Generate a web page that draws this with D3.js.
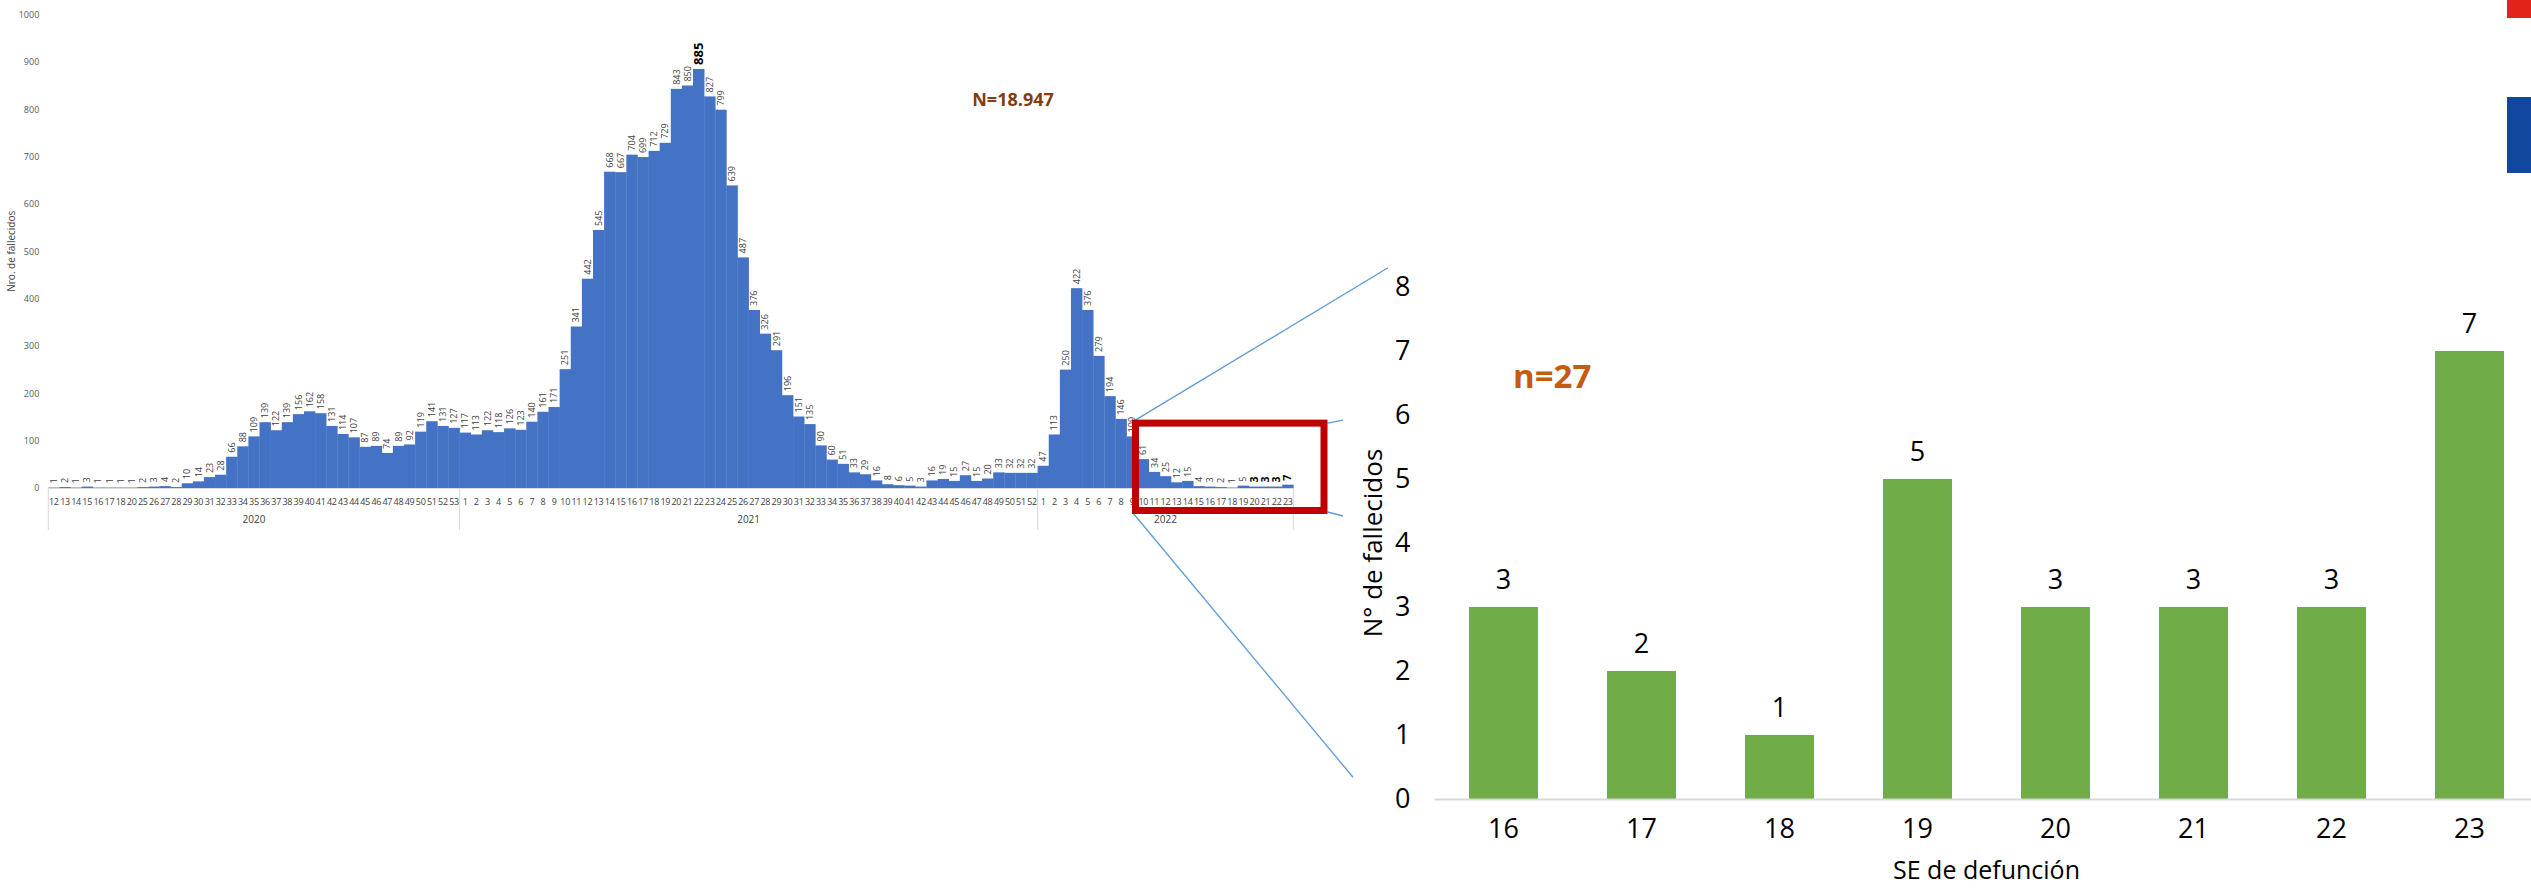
<!DOCTYPE html>
<html>
<head>
<meta charset="utf-8">
<script src="https://cdn.jsdelivr.net/npm/d3@7"></script>
<style>
  html, body { margin: 0; padding: 0; background: #ffffff; }
  svg { display: block; font-family: "Open Sans", "Noto Sans", sans-serif; }
</style>
</head>
<body>
<svg id="chart" width="2531" height="888"></svg>
<script>
// ---------------- DATA ----------------
const years = ["2020", "2021", "2022"];

const weeks2020 = [12,13,14,15,16,17,18,20,25,26,27,28,29,30,31,32,33,34,35,36,37,38,39,40,41,42,43,44,45,46,47,48,49,50,51,52,53];
const values2020 = [1,2,1,3,1,1,1,1,2,3,4,2,10,14,23,28,66,88,109,139,122,139,156,162,158,131,114,107,87,89,74,89,92,119,141,131,127];

const weeks2021 = [1,2,3,4,5,6,7,8,9,10,11,12,13,14,15,16,17,18,19,20,21,22,23,24,25,26,27,28,29,30,31,32,33,34,35,36,37,38,39,40,41,42,43,44,45,46,47,48,49,50,51,52];
const values2021 = [117,113,122,118,126,123,140,161,171,251,341,442,545,668,667,704,699,712,729,843,850,885,827,799,639,487,376,326,291,196,151,135,90,60,51,33,29,16,8,6,5,3,16,19,15,27,15,20,33,32,32,32];

const weeks2022 = [1,2,3,4,5,6,7,8,9,10,11,12,13,14,15,16,17,18,19,20,21,22,23];
const values2022 = [47,113,250,422,376,279,194,146,109,61,34,25,12,15,4,3,2,1,5,3,3,3,7];

const boldLabels = ["2021-22", "2022-20", "2022-21", "2022-22", "2022-23"];

const leftTicks = [0,100,200,300,400,500,600,700,800,900,1000];
const totalLabel = "N=18.947";

const zoomWeeks = ["16","17","18","19","20","21","22","23"];
const zoomValues = [3,2,1,5,3,3,3,7];
const zoomTicks = [0,1,2,3,4,5,6,7,8];
const zoomLabel = "n=27";

// ---------------- BUILD ----------------
const svg = d3.select("#chart");

const rows = [];
[[years[0], weeks2020, values2020], [years[1], weeks2021, values2021], [years[2], weeks2022, values2022]]
  .forEach(([yr, wk, vals]) => wk.forEach((w, i) => rows.push({key: yr + "-" + w, year: yr, week: w, value: vals[i]})));

// ---------- LEFT CHART ----------
const xL = d3.scaleBand().domain(rows.map(d => d.key)).range([48.3, 1293.3]).padding(0);
const yL = d3.scaleLinear().domain([0, 1000]).range([488, 14.5]);

const left = svg.append("g");

left.append("g").selectAll("rect").data(rows).join("rect")
  .attr("x", d => xL(d.key))
  .attr("y", d => yL(d.value))
  .attr("width", xL.bandwidth() + 0.3)
  .attr("height", d => yL(0) - yL(d.value))
  .attr("fill", "#4472C4");

left.append("line")
  .attr("x1", xL.range()[0]).attr("x2", xL.range()[1])
  .attr("y1", yL(0) + 0.5).attr("y2", yL(0) + 0.5)
  .attr("stroke", "#D9D9D9").attr("stroke-width", 1);

const yAxisL = left.append("g")
  .attr("transform", `translate(${xL.range()[0]},0)`)
  .call(d3.axisLeft(yL).tickValues(leftTicks).tickFormat(d3.format("d")).tickSize(0).tickPadding(9));
yAxisL.select(".domain").remove();
yAxisL.selectAll("text").attr("font-size", 9).attr("fill", "#595959").attr("font-family", "Open Sans");

left.append("text")
  .attr("transform", `translate(11, ${(yL(0) + yL(1000)) / 2}) rotate(-90)`)
  .attr("text-anchor", "middle").attr("dy", "0.35em")
  .attr("font-size", 10).attr("fill", "#404040")
  .text("Nro. de fallecidos");

const xAxisL = left.append("g")
  .attr("transform", `translate(0,${yL(0)})`)
  .call(d3.axisBottom(xL).tickFormat(k => k.split("-")[1]).tickSize(0).tickPadding(11));
xAxisL.select(".domain").remove();
xAxisL.selectAll("text").attr("font-size", 9).attr("fill", "#404040").attr("font-family", "Open Sans")
  .attr("letter-spacing", "-0.3");

const bounds = [];
years.forEach(yr => {
  const ks = rows.filter(r => r.year === yr).map(r => r.key);
  bounds.push({year: yr, x0: xL(ks[0]), x1: xL(ks[ks.length - 1]) + xL.bandwidth()});
});
const sepXs = [bounds[0].x0].concat(bounds.map(b => b.x1));
left.append("g").selectAll("line").data(sepXs).join("line")
  .attr("x1", d => d).attr("x2", d => d)
  .attr("y1", yL(0)).attr("y2", yL(0) + 42)
  .attr("stroke", "#D9D9D9").attr("stroke-width", 1);
left.append("g").selectAll("text").data(bounds).join("text")
  .attr("x", d => (d.x0 + d.x1) / 2).attr("y", yL(0) + 35)
  .attr("text-anchor", "middle").attr("font-size", 10).attr("fill", "#404040")
  .text(d => d.year);

left.append("g").selectAll("text").data(rows).join("text")
  .attr("transform", d => `translate(${xL(d.key) + xL.bandwidth() / 2},${yL(d.value) - 4}) rotate(-90)`)
  .attr("dy", "0.35em")
  .attr("text-anchor", "start")
  .attr("font-size", d => d.key === "2021-22" ? 13 : (boldLabels.includes(d.key) ? 10.5 : 9))
  .attr("font-weight", d => boldLabels.includes(d.key) ? 700 : 400)
  .attr("fill", d => boldLabels.includes(d.key) ? "#000000" : "#404040")
  .text(d => d.value);

left.append("text")
  .attr("x", 1013).attr("y", 106)
  .attr("text-anchor", "middle")
  .attr("font-size", 18).attr("font-weight", 700).attr("fill", "#843C0C")
  .text(totalLabel);

// ---------- RIGHT (ZOOM) CHART ----------
const xR = d3.scaleBand().domain(zoomWeeks).range([1434.5, 2538.5]).paddingInner(0.5).paddingOuter(0.25);
const yR = d3.scaleLinear().domain([0, 8]).range([799, 287]);

const right = svg.append("g");

right.append("g").selectAll("rect").data(zoomWeeks).join("rect")
  .attr("x", d => xR(d))
  .attr("y", (d, i) => yR(zoomValues[i]))
  .attr("width", xR.bandwidth())
  .attr("height", (d, i) => yR(0) - yR(zoomValues[i]))
  .attr("fill", "#70AD47");

right.append("line")
  .attr("x1", xR.range()[0]).attr("x2", 2531)
  .attr("y1", yR(0) + 0.5).attr("y2", yR(0) + 0.5)
  .attr("stroke", "#D9D9D9").attr("stroke-width", 2);

const yAxisR = right.append("g")
  .attr("transform", `translate(${xR.range()[0]},0)`)
  .call(d3.axisLeft(yR).tickValues(zoomTicks).tickFormat(d3.format("d")).tickSize(0).tickPadding(24));
yAxisR.select(".domain").remove();
yAxisR.selectAll("text").attr("font-size", 27).attr("fill", "#000000").attr("font-family", "Open Sans");

const xAxisR = right.append("g")
  .attr("transform", `translate(0,${yR(0)})`)
  .call(d3.axisBottom(xR).tickSize(0).tickPadding(20));
xAxisR.select(".domain").remove();
xAxisR.selectAll("text").attr("font-size", 27).attr("fill", "#000000").attr("font-family", "Open Sans");

right.append("g").selectAll("text").data(zoomWeeks).join("text")
  .attr("x", d => xR(d) + xR.bandwidth() / 2)
  .attr("y", (d, i) => yR(zoomValues[i]) - 18)
  .attr("text-anchor", "middle")
  .attr("font-size", 27).attr("fill", "#000000")
  .text((d, i) => zoomValues[i]);

right.append("text")
  .attr("x", (xR.range()[0] + xR.range()[1]) / 2).attr("y", 879)
  .attr("text-anchor", "middle").attr("font-size", 25).attr("fill", "#000000")
  .text("SE de defunción");
right.append("text")
  .attr("transform", `translate(1373, 543) rotate(-90)`)
  .attr("text-anchor", "middle").attr("dy", "0.35em")
  .attr("font-size", 26).attr("fill", "#000000")
  .text("N° de fallecidos");

right.append("text")
  .attr("x", 1513).attr("y", 388)
  .attr("font-size", 33).attr("font-weight", 700).attr("fill", "#C55A11")
  .text(zoomLabel);

// ---------- ZOOM ANNOTATION ----------
const rx0 = xL("2022-10") - 2.2;
const rx1 = xL("2022-23") + xL.bandwidth() + 30.7;
const ry0 = yL(137);
const ry1 = yL(0) + 22.5;

const ann = svg.append("g");
const conn = [
  [rx0 - 3.5, ry0 - 1, xR.range()[0] - 46.5, yR(8.3)],
  [rx1 + 3.5, ry0, rx1 + 19, ry0 - 3],
  [rx1 + 3.5, ry1 + 1.5, rx1 + 19, ry1 + 5.5],
  [rx0 - 2.5, ry1 + 2.5, xR.range()[0] - 81.5, yR(0.34)]
];
ann.selectAll("line").data(conn).join("line")
  .attr("x1", d => d[0]).attr("y1", d => d[1])
  .attr("x2", d => d[2]).attr("y2", d => d[3])
  .attr("stroke", "#5B9BD5").attr("stroke-width", 1.3);

ann.append("rect")
  .attr("x", rx0).attr("y", ry0)
  .attr("width", rx1 - rx0).attr("height", ry1 - ry0)
  .attr("fill", "none").attr("stroke", "#C00000").attr("stroke-width", 7);

svg.append("rect").attr("x", 2507).attr("y", 0).attr("width", 24).attr("height", 18).attr("fill", "#E2231A");
svg.append("rect").attr("x", 2507).attr("y", 97).attr("width", 24).attr("height", 76).attr("fill", "#11479E");
</script>
</body>
</html>
